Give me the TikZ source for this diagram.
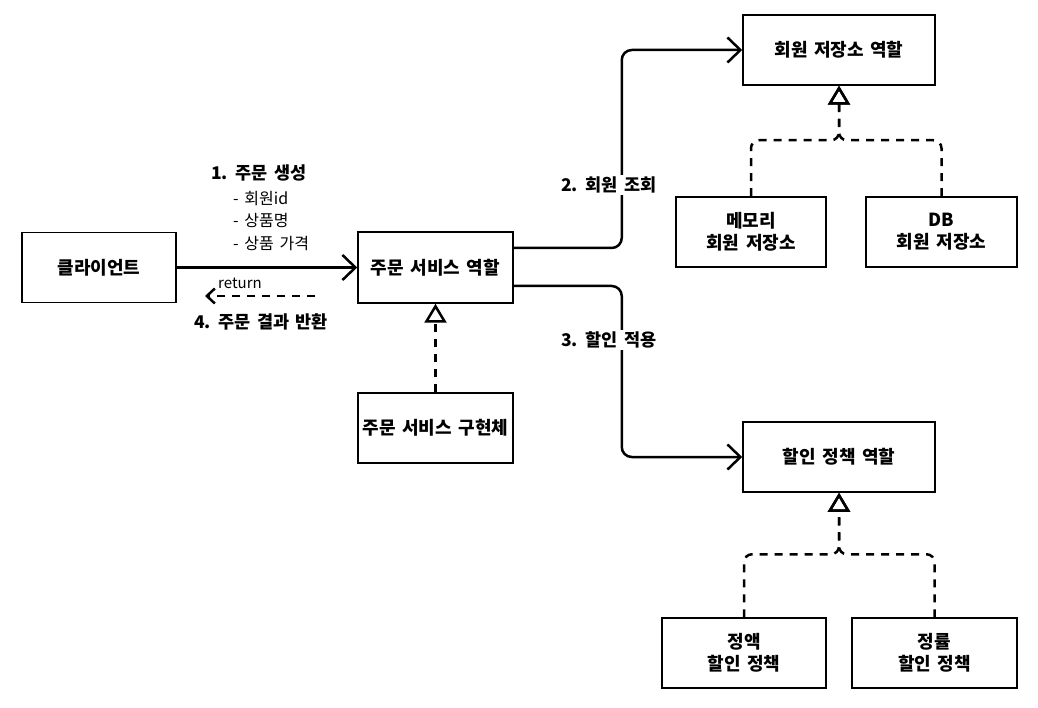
\documentclass[tikz,border=0pt]{standalone}
\usepackage{fontspec}
\setmainfont{Noto Sans CJK KR}[WordSpace=1.6]
\usetikzlibrary{arrows.meta}
\tikzset{
  box/.style={draw,line width=1.5pt,minimum height=70pt,inner sep=2pt,align=center,
    font=\bfseries\fontsize{18}{22}\selectfont},
  lbl/.style={inner sep=2pt,font=\bfseries\fontsize{17.5}{21}\selectfont},
  note/.style={inner sep=0pt,align=left,font=\fontsize{16}{22.5}\selectfont},
  flow/.style={line width=2.5pt,rounded corners=10pt,-{Straight Barb[length=13pt,width=25pt,line width=2.5pt]}},
  back/.style={line width=2.5pt,dash pattern=on 8pt off 7pt,-{Straight Barb[length=8pt,width=15pt,line width=2.5pt]}},
  realize/.style={line width=2.5pt,dash pattern=on 8pt off 7pt,rounded corners=8pt,
    -{Triangle[open,length=19pt,width=22pt,line width=2.5pt]}}
}
\begin{document}
\begin{tikzpicture}[x=1pt,y=-1pt]
  \useasboundingbox (0,0) rectangle (1038,708);
  \node[box,minimum width=154pt] (client) at (99,267.5) {클라이언트};
  \node[box,minimum width=155pt,minimum height=71pt] (service) at (435.5,267.5) {주문 서비스 역할};
  \node[box,minimum width=155pt] (serviceimpl) at (435.5,428) {주문 서비스 구현체};
  \node[box,minimum width=192pt] (repo) at (839,50) {회원 저장소 역할};
  \node[box,minimum width=150pt] (memrepo) at (751,232) {메모리\\회원 저장소};
  \node[box,minimum width=151pt] (dbrepo) at (941.5,232) {DB\\회원 저장소};
  \node[box,minimum width=192pt] (discount) at (839,457) {할인 정책 역할};
  \node[box,minimum width=164pt] (fixdiscount) at (744,653) {정액\\할인 정책};
  \node[box,minimum width=165pt] (ratediscount) at (934.5,653) {정률\\할인 정책};
  % order request and return
  \draw[flow] (client) -- (service);
  \coordinate (ret-a) at (315,296);
  \coordinate (ret-b) at (205,296);
  \draw[back] (ret-a) -- (ret-b);
  \node[lbl] (step1) at (259,173) {1. 주문 생성};
  \node[note,anchor=west] (items) at (233,221) {- 회원id\\- 상품명\\- 상품 가격};
  \node[note,font=\fontsize{15}{18}\selectfont] (ret) at (240,283) {return};
  \node[lbl] (step4) at (261,322) {4. 주문 결과 반환};
  % calls from the service
  \draw[flow] ([yshift=19.5pt]service.east) -- ++(108,0) |- (repo.west);
  \draw[flow] ([yshift=-18.5pt]service.east) -- ++(108,0) |- (discount.west);
  \node[lbl,fill=white] (step2) at (609,185) {2. 회원 조회};
  \node[lbl,fill=white] (step3) at (609,340) {3. 할인 적용};
  % implementations
  \draw[realize] (serviceimpl.north) -- (service.south);
  \draw[realize] (memrepo.north) -- ++(0,-56) -| (repo.south);
  \draw[realize] (dbrepo.north) -- ++(0,-56) -| (repo.south);
  \draw[realize] (fixdiscount.north) -- ++(0,-63) -| (discount.south);
  \draw[realize] (ratediscount.north) -- ++(0,-63) -| (discount.south);
\end{tikzpicture}
\end{document}
